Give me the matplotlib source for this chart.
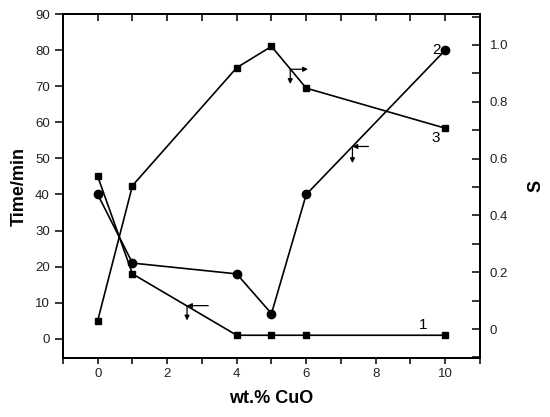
import matplotlib
matplotlib.use("Agg")
import matplotlib.pyplot as plt
from matplotlib.ticker import MultipleLocator, FixedLocator

plt.rcParams['font.family'] = ['Liberation Sans', 'DejaVu Sans']

x = [0, 1, 4, 5, 6, 10]
time1 = [45, 18, 1, 1, 1, 1]          # curve 1, squares, left axis
time2 = [40, 21, 18, 7, 40, 80]       # curve 2, circles, left axis
s3 = [0.03, 0.505, 0.92, 0.995, 0.848, 0.707]  # curve 3, squares, right axis

fig = plt.figure(figsize=(5.5, 4.17), dpi=100)
ax = fig.add_axes([0.1145, 0.1415, 0.7582, 0.8249])
ax2 = ax.twinx()

lw = 1.2
ax.plot(x, time1, color='black', lw=lw, marker='s', ms=5, zorder=3)
ax.plot(x, time2, color='black', lw=lw, marker='o', ms=6, zorder=3)
ax2.plot(x, s3, color='black', lw=lw, marker='s', ms=5, zorder=3)

ax.set_xlim(-1, 11)
ax.set_ylim(-5.3, 90)
ax2.set_ylim(-0.102, 1.109)

ax.xaxis.set_major_locator(MultipleLocator(2))
ax.xaxis.set_minor_locator(MultipleLocator(1))
ax.yaxis.set_major_locator(MultipleLocator(10))
ax2.yaxis.set_major_locator(FixedLocator([0, 0.2, 0.4, 0.6, 0.8, 1.0]))
ax2.yaxis.set_minor_locator(MultipleLocator(0.1))
ax2.set_yticklabels(['0', '0.2', '0.4', '0.6', '0.8', '1.0'])

tc = '#222222'
ax.tick_params(axis='x', which='both', direction='out', length=4, width=1.1,
               labelsize=9.5, labelcolor=tc, top=False)
ax.tick_params(axis='y', which='major', direction='out', length=6, width=1.1,
               labelsize=9.5, labelcolor=tc)
ax2.tick_params(axis='y', which='major', direction='in', length=6, width=1.1,
                labelsize=9.5, labelcolor=tc, pad=7)
ax2.tick_params(axis='y', which='minor', direction='in', length=6, width=1.1)

# top inward ticks
sec = ax.secondary_xaxis('top')
sec.xaxis.set_major_locator(MultipleLocator(2))
sec.xaxis.set_minor_locator(MultipleLocator(1))
sec.tick_params(axis='x', which='both', direction='in', length=5, width=1.1,
                labeltop=False)
sec.spines['top'].set_linewidth(1.4)

for a in (ax, ax2):
    for sp in a.spines.values():
        sp.set_linewidth(1.4)

ax.set_xlabel('wt.% CuO', fontsize=13, fontweight='bold', labelpad=7)
ax.set_ylabel('Time/min', fontsize=13, fontweight='bold', labelpad=5)
ax2.set_ylabel('S', fontsize=13, fontweight='bold', labelpad=14)

# curve labels
ax.text(9.37, 3.9, '1', fontsize=11, ha='center', va='center')
ax.text(9.74, 79.9, '2', fontsize=11, ha='center', va='center')
ax.text(9.74, 55.7, '3', fontsize=11, ha='center', va='center')

# axis-indicator arrows
def indicator(vx, vy, hx, dy, left):
    ap = dict(arrowstyle='-|>', color='black', lw=0.9, mutation_scale=7,
              shrinkA=0, shrinkB=0)
    if left:
        ax.annotate('', xy=(vx, vy), xytext=(hx, vy), arrowprops=ap)
    else:
        ax.annotate('', xy=(hx, vy), xytext=(vx, vy), arrowprops=ap)
    ax.annotate('', xy=(vx, dy), xytext=(vx, vy), arrowprops=ap)

indicator(2.57, 9.2, 3.18, 5.1, left=True)
indicator(5.54, 74.7, 6.05, 70.6, left=False)
indicator(7.33, 53.3, 7.79, 48.7, left=True)

fig.savefig('out.png', dpi=100)
